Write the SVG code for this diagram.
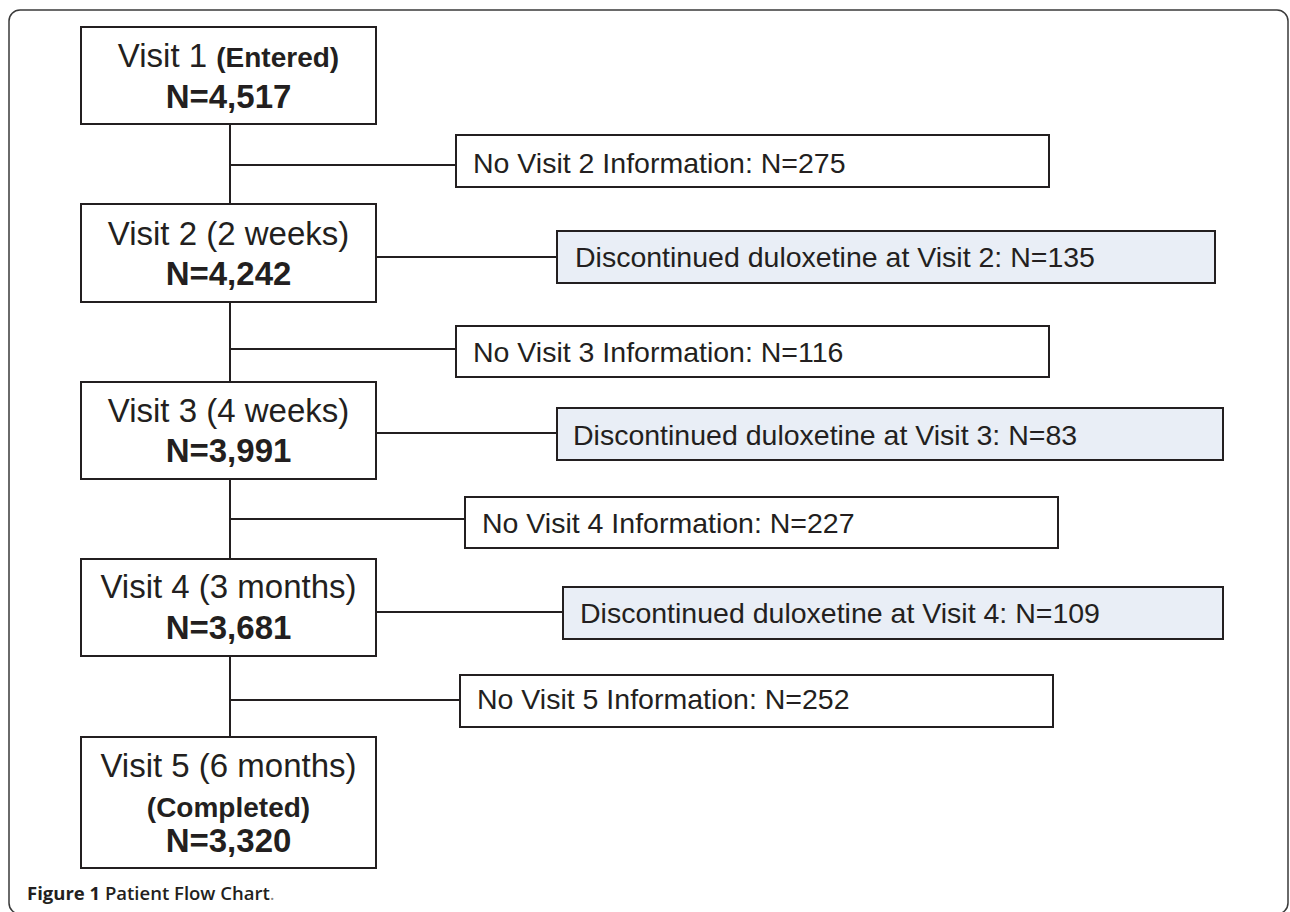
<svg xmlns="http://www.w3.org/2000/svg" width="1290" height="912" viewBox="0 0 1290 912">
<style>
.frame{fill:none;stroke:#3a3a3a;stroke-width:1.5}
.box{fill:#fff;stroke:#231f20;stroke-width:2}
.disc{fill:#e9eef6;stroke:#231f20;stroke-width:2}
.ln{stroke:#231f20;stroke-width:2;fill:none}
.t{font-family:"Liberation Sans",Arial,sans-serif;fill:#231f20}
.main{font-size:33px;text-anchor:middle}
.b{font-weight:bold}
.sub{font-size:28px}
.side{font-size:28.5px}
.cap{font-family:"Open Sans","Noto Sans",sans-serif;font-size:18.5px;fill:#231f20}
</style>
<rect class="frame" x="9" y="10" width="1279" height="904" rx="11"/>
<g id="connectors">
<line class="ln" x1="230" y1="124" x2="230" y2="204"/>
<line class="ln" x1="230" y1="165" x2="456" y2="165"/>
<line class="ln" x1="376" y1="257" x2="557" y2="257"/>
<line class="ln" x1="230" y1="302" x2="230" y2="382"/>
<line class="ln" x1="230" y1="349" x2="456" y2="349"/>
<line class="ln" x1="376" y1="433" x2="557" y2="433"/>
<line class="ln" x1="230" y1="479" x2="230" y2="559"/>
<line class="ln" x1="230" y1="519" x2="465" y2="519"/>
<line class="ln" x1="376" y1="612" x2="563" y2="612"/>
<line class="ln" x1="230" y1="656" x2="230" y2="737"/>
<line class="ln" x1="230" y1="700" x2="460" y2="700"/>
</g>
<g id="visit1">
<rect class="box" x="81" y="27" width="295" height="97"/>
<text class="t main" x="228.5" y="67">Visit 1 <tspan class="b sub">(Entered)</tspan></text>
<text class="t main b" x="228.5" y="108">N=4,517</text>
</g>
<g id="novisit2">
<rect class="box" x="456" y="135" width="593" height="52"/>
<text class="t side" x="473" y="173">No Visit 2 Information: N=275</text>
</g>
<g id="visit2">
<rect class="box" x="81" y="204" width="295" height="98"/>
<text class="t main" x="228.5" y="245">Visit 2 (2 weeks)</text>
<text class="t main b" x="228.5" y="285">N=4,242</text>
</g>
<g id="disc2">
<rect class="disc" x="557" y="231" width="658" height="52"/>
<text class="t side" x="575" y="267">Discontinued duloxetine at Visit 2: N=135</text>
</g>
<g id="novisit3">
<rect class="box" x="456" y="326" width="593" height="51"/>
<text class="t side" x="473" y="362">No Visit 3 Information: N=116</text>
</g>
<g id="visit3">
<rect class="box" x="81" y="382" width="295" height="97"/>
<text class="t main" x="228.5" y="422">Visit 3 (4 weeks)</text>
<text class="t main b" x="228.5" y="462">N=3,991</text>
</g>
<g id="disc3">
<rect class="disc" x="557" y="408" width="666" height="52"/>
<text class="t side" x="573" y="445">Discontinued duloxetine at Visit 3: N=83</text>
</g>
<g id="novisit4">
<rect class="box" x="465" y="497" width="593" height="51"/>
<text class="t side" x="482" y="533">No Visit 4 Information: N=227</text>
</g>
<g id="visit4">
<rect class="box" x="81" y="559" width="295" height="97"/>
<text class="t main" x="228.5" y="598">Visit 4 (3 months)</text>
<text class="t main b" x="228.5" y="639">N=3,681</text>
</g>
<g id="disc4">
<rect class="disc" x="563" y="587" width="660" height="52"/>
<text class="t side" x="580" y="623">Discontinued duloxetine at Visit 4: N=109</text>
</g>
<g id="novisit5">
<rect class="box" x="460" y="675" width="593" height="52"/>
<text class="t side" x="477" y="709">No Visit 5 Information: N=252</text>
</g>
<g id="visit5">
<rect class="box" x="81" y="737" width="295" height="131"/>
<text class="t main" x="228.5" y="777">Visit 5 (6 months)</text>
<text class="t main b" x="228.5" y="817" style="font-size:28px">(Completed)</text>
<text class="t main b" x="228.5" y="852">N=3,320</text>
</g>
<text class="cap" x="27" y="900"><tspan font-weight="bold">Figure 1</tspan> <tspan font-weight="600">Patient Flow Chart</tspan><tspan fill="#888">.</tspan></text>
</svg>
